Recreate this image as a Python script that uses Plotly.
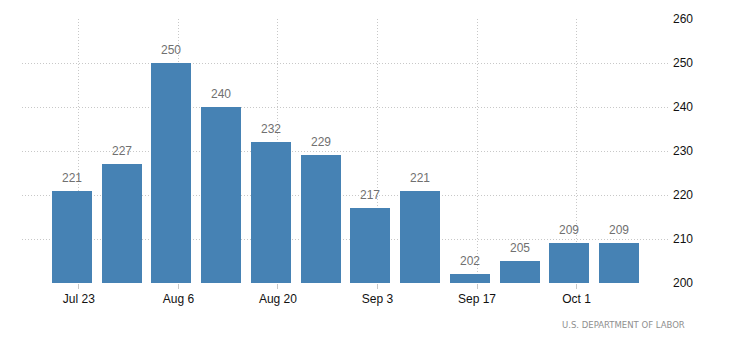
import plotly.graph_objects as go
import pandas as pd

weeks = ["2017-07-22", "2017-07-29", "2017-08-05", "2017-08-12", "2017-08-19", "2017-08-26",
         "2017-09-02", "2017-09-09", "2017-09-16", "2017-09-23", "2017-09-30", "2017-10-07"]
claims = [221, 227, 250, 240, 232, 229, 217, 221, 202, 205, 209, 209]
tick_dates = ["2017-07-23", "2017-08-06", "2017-08-20", "2017-09-03", "2017-09-17", "2017-10-01"]
tick_labels = ["Jul 23", "Aug 6", "Aug 20", "Sep 3", "Sep 17", "Oct 1"]
y_ticks = [200, 210, 220, 230, 240, 250, 260]
source = "U.S. DEPARTMENT OF LABOR"

FONT = "Liberation Sans, Arial, sans-serif"
DAY_MS = 86400000

fig = go.Figure()
fig.add_trace(go.Bar(
    x=weeks, y=claims,
    marker=dict(color="#4682B4", line=dict(width=0)),
    width=5.63 * DAY_MS,
    hoverinfo="x+y",
))

for d, v in zip(weeks, claims):
    fig.add_annotation(x=d, y=v, text=str(v), showarrow=False, yanchor="bottom",
                       yshift=4, font=dict(family=FONT, size=12, color="#707070"))

fig.add_annotation(xref="paper", yref="paper", x=(687 - 22) / 646, y=(283 - 325) / 264,
                   xanchor="right", yanchor="middle", text=source, showarrow=False,
                   font=dict(family="DejaVu Sans, sans-serif", size=8.5, color="#8f8f8f"))

fig.update_layout(
    width=730, height=351,
    margin=dict(l=22, r=62, t=19, b=68),
    paper_bgcolor="white", plot_bgcolor="white",
    showlegend=False, bargap=0,
    font=dict(family=FONT, size=12, color="#000"),
    xaxis=dict(
        type="date",
        range=["2017-07-15", "2017-10-13 20:40"],
        tickvals=tick_dates, ticktext=tick_labels,
        showgrid=True, gridcolor="#c8c8c8", griddash="1px,2px", gridwidth=1,
        ticks="outside", ticklen=5, tickcolor="#c8c8c8",
        showline=False, zeroline=False,
        tickfont=dict(family=FONT, size=12, color="#111"),
    ),
    yaxis=dict(
        range=[200, 260], side="right",
        tickvals=y_ticks,
        showgrid=True, gridcolor="#c8c8c8", griddash="1px,2px", gridwidth=1,
        zeroline=False, showline=False,
        ticklabelstandoff=4,
        tickfont=dict(family=FONT, size=12, color="#111"),
    ),
)

fig.write_html("out.html")
